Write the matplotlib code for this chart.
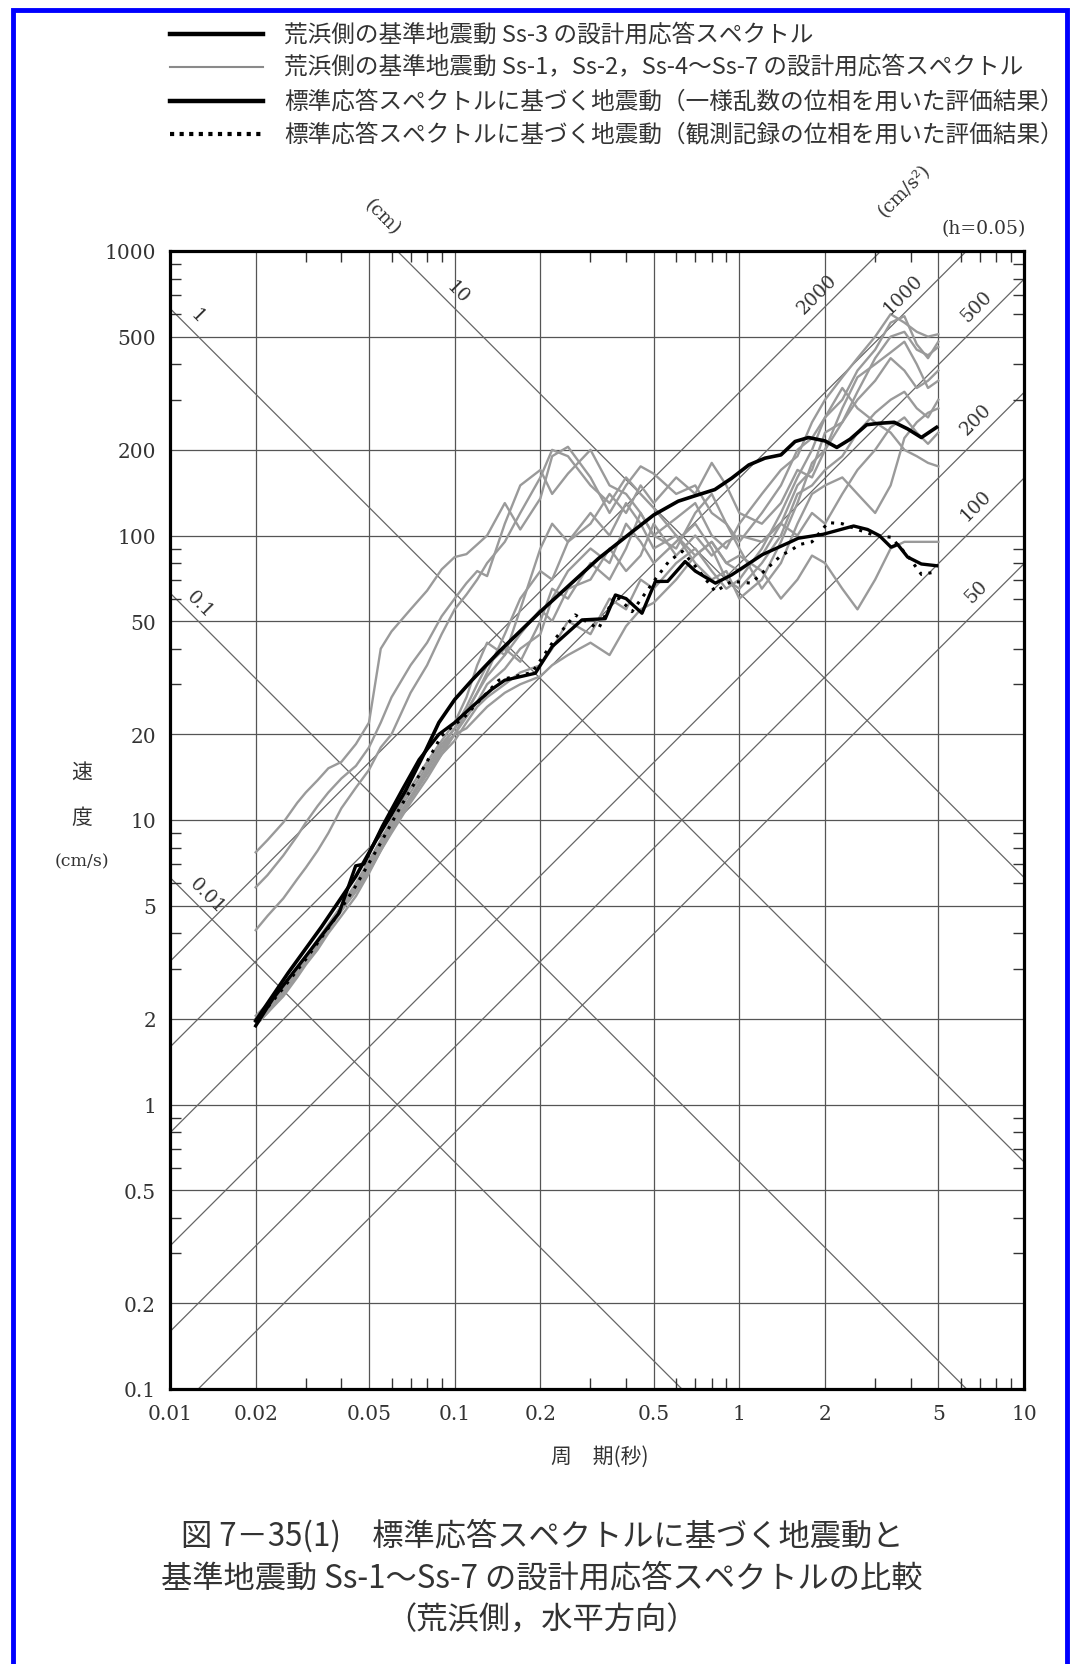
import matplotlib.pyplot as plt
import numpy as np
from matplotlib.lines import Line2D
from matplotlib.patches import Rectangle

# ---- data ----
# period grid shared by the gray Ss curves (s)
gray_t = [0.02, 0.022, 0.025, 0.028, 0.03, 0.033, 0.036, 0.04, 0.045, 0.05,
          0.055, 0.06, 0.07, 0.08, 0.09, 0.1, 0.11, 0.12, 0.13, 0.15,
          0.17, 0.2, 0.22, 0.25, 0.3, 0.35, 0.4, 0.45, 0.5, 0.6,
          0.7, 0.8, 0.9, 1.0, 1.2, 1.4, 1.6, 1.8, 2.0, 2.3,
          2.6, 3.0, 3.4, 3.8, 4.2, 4.6, 5.0]

g1 = [7.7, 8.5, 9.8, 11.5, 12.5, 13.8, 15.2, 16.0, 18.5, 22,
      40, 46, 55, 64, 76, 84, 86, 93, 100, 130,
      105, 135, 190, 205, 160, 120, 150, 175, 165, 140,
      150, 120, 110, 95, 120, 150, 200, 220, 260, 300,
      380, 450, 560, 590, 470, 420, 480]
g2 = [5.8, 6.4, 7.5, 8.8, 9.8, 11.2, 12.5, 14, 15.5, 18,
      22, 27, 35, 42, 52, 60, 68, 75, 72, 110,
      150, 170, 140, 165, 200, 150, 140, 120, 100, 115,
      130, 100, 90, 110, 140, 170, 190, 250, 300, 360,
      420, 500, 600, 560, 520, 500, 510]
g3 = [4.1, 4.6, 5.3, 6.2, 6.8, 7.8, 9.0, 11, 13, 15,
      18, 20, 28, 35, 45, 55, 62, 70, 80, 95,
      120, 160, 200, 190, 150, 130, 160, 140, 125, 100,
      85, 95, 80, 75, 85, 110, 150, 170, 230, 250,
      300, 350, 420, 380, 330, 350, 380]
g4 = [2.0, 2.2, 2.6, 3.0, 3.3, 3.8, 4.3, 5.0, 6.0, 7.2,
      8.5, 10, 13, 16, 19, 22, 27, 35, 42, 38,
      55, 90, 110, 95, 120, 100, 130, 110, 90, 100,
      80, 70, 75, 60, 70, 95, 130, 180, 200, 250,
      320, 420, 500, 520, 450, 430, 460]
g5 = [1.95, 2.15, 2.5, 2.9, 3.2, 3.6, 4.1, 4.8, 5.7, 6.8,
      8.0, 9.5, 12, 15, 18, 20, 23, 26, 30, 34,
      40, 45, 60, 75, 90, 80, 110, 95, 80, 95,
      110, 90, 70, 65, 80, 100, 140, 150, 170, 190,
      230, 270, 300, 320, 280, 260, 300]
g6 = [1.9, 2.1, 2.4, 2.8, 3.1, 3.5, 4.0, 4.6, 5.4, 6.5,
      7.8, 9.0, 11.5, 14, 17, 19, 22, 25, 27, 30,
      33, 35, 40, 50, 45, 60, 55, 70, 65, 80,
      90, 75, 65, 70, 90, 120, 160, 200, 260, 330,
      280, 250, 230, 200, 190, 180, 175]
g7 = [2.05, 2.25, 2.6, 3.0, 3.3, 3.7, 4.2, 4.9, 5.8, 7.0,
      8.2, 9.6, 12, 14.5, 17, 20, 21, 23, 25, 28,
      30, 32, 35, 38, 42, 38, 48, 55, 58, 70,
      85, 95, 80, 85, 75, 60, 70, 85, 80, 65,
      55, 70, 90, 95, 95, 95, 95]
g8 = [1.9, 2.1, 2.45, 2.85, 3.15, 3.6, 4.1, 4.8, 5.6, 6.6,
      7.8, 9.2, 11.8, 14.5, 17.5, 20, 24, 28, 33, 45,
      60, 75, 70, 95, 110, 140, 120, 150, 130, 160,
      140, 180, 150, 120, 110, 130, 170, 160, 200, 280,
      360, 400, 440, 480, 400, 330, 350]
g9 = [1.95, 2.15, 2.5, 2.9, 3.2, 3.7, 4.2, 4.9, 5.8, 6.9,
      8.1, 9.4, 12, 15, 18, 21, 25, 30, 35, 40,
      36, 50, 65, 60, 80, 70, 90, 120, 100, 90,
      120, 140, 110, 90, 65, 80, 110, 140, 150, 160,
      140, 120, 150, 220, 250, 270, 280]
g10 = [2.0, 2.2, 2.55, 2.95, 3.25, 3.7, 4.2, 4.9, 5.9, 7.0,
       8.3, 9.8, 12.5, 15.5, 18.5, 21, 24, 28, 32, 38,
       45, 55, 50, 65, 70, 90, 75, 85, 110, 85,
       100, 85, 95, 100, 95, 110, 100, 120, 110, 140,
       170, 200, 240, 260, 230, 210, 230]
gray_curves = [g1, g2, g3, g4, g5, g6, g7, g8, g9, g10]

# Ss-3 design response spectrum
ss3_t = [0.02, 0.026, 0.034, 0.045, 0.054, 0.067, 0.079, 0.088, 0.1, 0.115,
         0.143, 0.2, 0.245, 0.32, 0.42, 0.5, 0.61, 0.7, 0.82, 0.94,
         1.08, 1.23, 1.4, 1.57, 1.75, 2.0, 2.2, 2.45, 2.8, 3.1,
         3.5, 3.9, 4.36, 4.93]
ss3_sv = [1.97, 2.9, 4.2, 6.35, 8.8, 12.6, 17.5, 22, 26.5, 31,
          39, 54, 65, 83, 103, 118, 132, 138, 145, 159,
          177, 187, 192, 214, 221, 215, 204, 218, 245, 248,
          250, 237, 221, 240]

# standard response spectrum motion (uniform random phase)
rand_t = [0.02, 0.0229, 0.030, 0.0393, 0.0449, 0.048, 0.0557, 0.0655, 0.075, 0.088,
          0.1, 0.115, 0.135, 0.15, 0.192, 0.22, 0.28, 0.338, 0.367, 0.40,
          0.455, 0.507, 0.56, 0.645, 0.70, 0.824, 0.94, 1.2, 1.5, 1.61,
          1.97, 2.52, 2.82, 3.1, 3.41, 3.6, 3.9, 4.36, 4.93]
rand_sv = [1.89, 2.34, 3.32, 4.72, 6.9, 7.0, 9.5, 12.8, 16.3, 20,
           22, 25, 28.8, 31, 32.8, 40.7, 50.5, 51, 61.8, 60,
           53.3, 68.9, 69, 81, 75, 68, 72.7, 85.5, 94.6, 97.8,
           101, 108, 105, 100, 91, 93, 84, 79.4, 78.3]

# standard response spectrum motion (observed record phase)
obs_t = [0.02, 0.0248, 0.030, 0.0371, 0.0449, 0.0542, 0.0638, 0.077, 0.090, 0.109,
         0.125, 0.143, 0.187, 0.226, 0.265, 0.32, 0.367, 0.42, 0.51, 0.565,
         0.63, 0.70, 0.824, 0.94, 1.1, 1.41, 1.5, 1.63, 1.8, 2.05,
         2.3, 2.6, 3.0, 3.41, 3.9, 4.36, 4.93]
obs_sv = [1.95, 2.54, 3.24, 4.35, 5.86, 8.1, 10.9, 15, 19.8, 23.2,
          26.9, 31, 33, 43.5, 52.6, 47, 61.8, 54, 70.8, 81,
          88, 78, 63.5, 69, 68, 85.5, 88, 93, 95, 111,
          110, 105, 100, 98.6, 85, 73, 74.5]

# tripartite reference lines
disp_cm = [0.01, 0.1, 1, 10]
disp_labels = ['0.01', '0.1', '1', '10']
disp_label_t = [0.0125, 0.0118, 0.0115, 0.095]
acc_gal = [50, 100, 200, 500, 1000, 2000]
acc_labels = ['50', '100', '200', '500', '1000', '2000']
acc_label_t = [7.4, 7.4, 7.4, 7.4, 4.1, 2.04]

x_major = [0.01, 0.02, 0.05, 0.1, 0.2, 0.5, 1, 2, 5, 10]
x_major_lbl = ['0.01', '0.02', '0.05', '0.1', '0.2', '0.5', '1', '2', '5', '10']
y_major = [0.1, 0.2, 0.5, 1, 2, 5, 10, 20, 50, 100, 200, 500, 1000]
y_major_lbl = ['0.1', '0.2', '0.5', '1', '2', '5', '10', '20', '50', '100', '200', '500', '1000']

legend_labels = [
    '荒浜側の基準地震動 Ss-3 の設計用応答スペクトル',
    '荒浜側の基準地震動 Ss-1，Ss-2，Ss-4〜Ss-7 の設計用応答スペクトル',
    '標準応答スペクトルに基づく地震動（一様乱数の位相を用いた評価結果）',
    '標準応答スペクトルに基づく地震動（観測記録の位相を用いた評価結果）',
]
caption = ['図 7－35(1)　標準応答スペクトルに基づく地震動と',
           '基準地震動 Ss-1〜Ss-7 の設計用応答スペクトルの比較',
           '（荒浜側，水平方向）']

JP = ['Noto Sans CJK JP', 'DejaVu Sans']
SERIF = ['DejaVu Serif']
TXT = '#333333'
W, H = 1072, 1665

fig = plt.figure(figsize=(W / 100, H / 100), dpi=100)
ax = fig.add_axes([170 / W, 1 - 1390 / H, 854 / W, 1138 / H])
ax.set_xscale('log')
ax.set_yscale('log')
ax.set_xlim(0.01, 10)
ax.set_ylim(0.1, 1000)

# grid at 1-2-5
for xv in x_major[1:-1]:
    ax.axvline(xv, color='#555555', lw=0.9, zorder=1)
for yv in y_major[1:-1]:
    ax.axhline(yv, color='#555555', lw=0.9, zorder=1)

# diagonal lines
tt = np.array([0.01, 10.0])
for d in disp_cm:
    ax.plot(tt, 2 * np.pi * d / tt, color='#666666', lw=0.9, zorder=1)
for a in acc_gal:
    ax.plot(tt, a * tt / (2 * np.pi), color='#666666', lw=0.9, zorder=1)

for d, lbl, t in zip(disp_cm, disp_labels, disp_label_t):
    ax.annotate(lbl, (t, 2 * np.pi * d / t), xytext=(7, 7), textcoords='offset points',
                rotation=-45, ha='center', va='center', fontsize=13.5,
                family=SERIF, color=TXT, annotation_clip=False)
for a, lbl, t in zip(acc_gal, acc_labels, acc_label_t):
    ax.annotate(lbl, (t, a * t / (2 * np.pi)), xytext=(-7.5, 7.5), textcoords='offset points',
                rotation=45, ha='center', va='center', fontsize=13.5,
                family=SERIF, color=TXT, annotation_clip=False)

# curves
for sv in gray_curves:
    ax.plot(gray_t, sv, color='#9a9a9a', lw=1.7, zorder=2)
ax.plot(rand_t, rand_sv, color='black', lw=2.4, zorder=3)
ax.plot(obs_t, obs_sv, color='black', lw=2.2, ls=(0, (1, 2.2)), zorder=3)
ax.plot(ss3_t, ss3_sv, color='black', lw=2.6, zorder=4)

# ticks
ax.set_xticks(x_major)
ax.set_xticklabels(x_major_lbl)
ax.set_yticks(y_major)
ax.set_yticklabels(y_major_lbl)
x_minor = [m * 10.0 ** e for e in (-2, -1, 0) for m in (3, 4, 6, 7, 8, 9)]
y_minor = [m * 10.0 ** e for e in (-1, 0, 1, 2) for m in (3, 4, 6, 7, 8, 9)]
ax.set_xticks(x_minor, minor=True)
ax.set_yticks(y_minor, minor=True)
ax.xaxis.set_minor_formatter(plt.NullFormatter())
ax.yaxis.set_minor_formatter(plt.NullFormatter())
ax.tick_params(which='major', length=0, labelsize=14.5, labelcolor=TXT)
ax.tick_params(axis='x', which='major', pad=11)
ax.tick_params(axis='y', which='major', pad=10)
ax.tick_params(which='minor', direction='in', length=8, width=1,
               top=True, right=True, color='#333333')
for lab in ax.get_xticklabels() + ax.get_yticklabels():
    lab.set_family(SERIF)
for sp in ax.spines.values():
    sp.set_linewidth(2.3)
    sp.set_zorder(5)

# axis titles
fig.text(600 / W, 1 - 1457 / H, '周　期(秒)', family=JP, fontsize=15,
         color=TXT, ha='center', va='center')
fig.text(82 / W, 1 - 773 / H, '速', family=JP, fontsize=15, color=TXT, ha='center', va='center')
fig.text(82 / W, 1 - 818 / H, '度', family=JP, fontsize=15, color=TXT, ha='center', va='center')
fig.text(82 / W, 1 - 862 / H, '(cm/s)', family=SERIF, fontsize=12.5, color=TXT,
         ha='center', va='center')
fig.text(382 / W, 1 - 218 / H, '(cm)', family=SERIF, fontsize=13.5, color=TXT,
         rotation=-45, ha='center', va='center')
fig.text(904 / W, 1 - 191 / H, '(cm/s²)', family=SERIF, fontsize=13.5, color=TXT,
         rotation=45, ha='center', va='center')
fig.text(1026 / W, 1 - 229 / H, '(h=0.05)', family=SERIF, fontsize=13.5, color=TXT,
         ha='right', va='center')

# legend at the top
leg_styles = [dict(color='black', lw=3.2),
              dict(color='#8a8a8a', lw=1.5),
              dict(color='black', lw=3.2),
              dict(color='black', lw=3.0, ls=(0, (1, 1.3)))]
leg_y = [35, 68, 102, 135]
for lbl, st, y in zip(legend_labels, leg_styles, leg_y):
    fig.add_artist(Line2D([170 / W, 263 / W], [1 - y / H, 1 - y / H],
                          transform=fig.transFigure, **st))
    fig.text(284 / W, 1 - y / H, lbl, family=JP, fontsize=17, color=TXT,
             ha='left', va='center')

# caption
for line, y in zip(caption, [1536, 1578, 1621]):
    fig.text(542 / W, 1 - y / H, line, family=JP, fontsize=22.5, color=TXT,
             ha='center', va='center')

# blue frame
fig.add_artist(Rectangle((13 / W, -0.02), (1067 - 13) / W, 1.02 - 11 / H,
                         transform=fig.transFigure, fill=False,
                         edgecolor='#0000ff', lw=3.5, clip_on=False))

fig.savefig('out.png', dpi=100)
